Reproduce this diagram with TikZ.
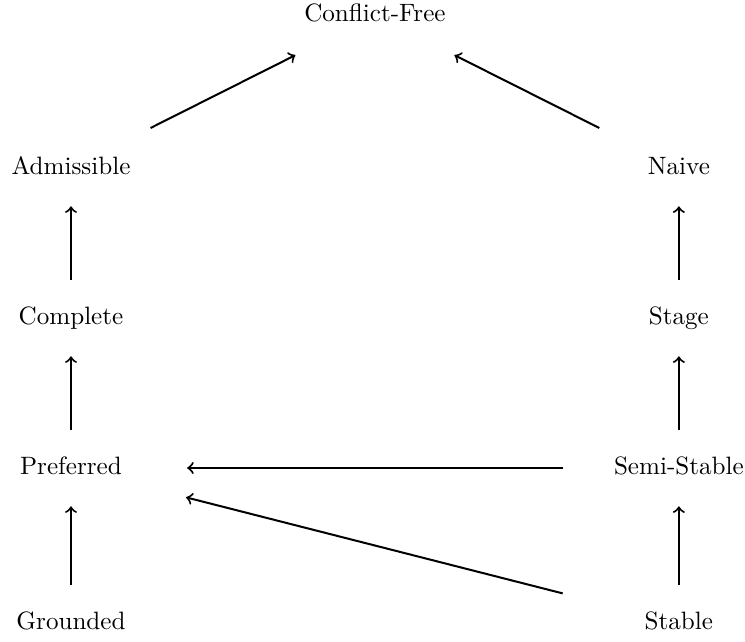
\documentclass[tikz,border=0pt]{standalone}
\usepackage{amsmath}
\usetikzlibrary{arrows,positioning}

\begin{document}
\begin{tikzpicture}
[node distance=2.1cm,on grid,thick,
 sem/.style={inner sep=0pt,text height=1.5ex,text depth=.25ex},
 vert/.style={shorten >=0.39cm,shorten <=0.39cm},
 diag/.style={shorten >=0.92cm,shorten <=0.92cm}]
      \useasboundingbox (-0.994,2.352) rectangle (9.436,-6.622);
      \node[sem] (adm)                                 {Admissible};
      \node[sem] (naive) [right=8.51cm of adm]          {Naive};
      \node[sem] (cf)    [above right=2.14cm and 4.255cm of adm] {Conflict-Free};
      \node[sem] (comp)  [below=of adm]                 {Complete};
      \node[sem] (pref)  [below=of comp]                {Preferred};
      \node[sem] (gr)    [below=2.17cm of pref]         {Grounded};
      \node[sem] (stage) [below=of naive]               {Stage};
      \node[sem] (semi)  [below=of stage]               {Semi-Stable};
      \node[sem] (stab)  [below=2.17cm of semi]         {Stable};

      \path[->]
      (adm) edge[diag] (cf)
      (naive) edge[diag] (cf)
      (comp) edge[vert] (adm)
      (pref) edge[vert] (comp)
      (gr) edge[vert] (pref)
      (stage) edge[vert] (naive)
      (semi) edge[vert] (stage)
      (stab) edge[vert] (semi)
      (semi) edge[shorten <=0.7cm,shorten >=0.9cm] (pref)
      (stab) edge[shorten <=1.17cm,shorten >=1.07cm] (pref)
      ;

\end{tikzpicture}
\end{document}
